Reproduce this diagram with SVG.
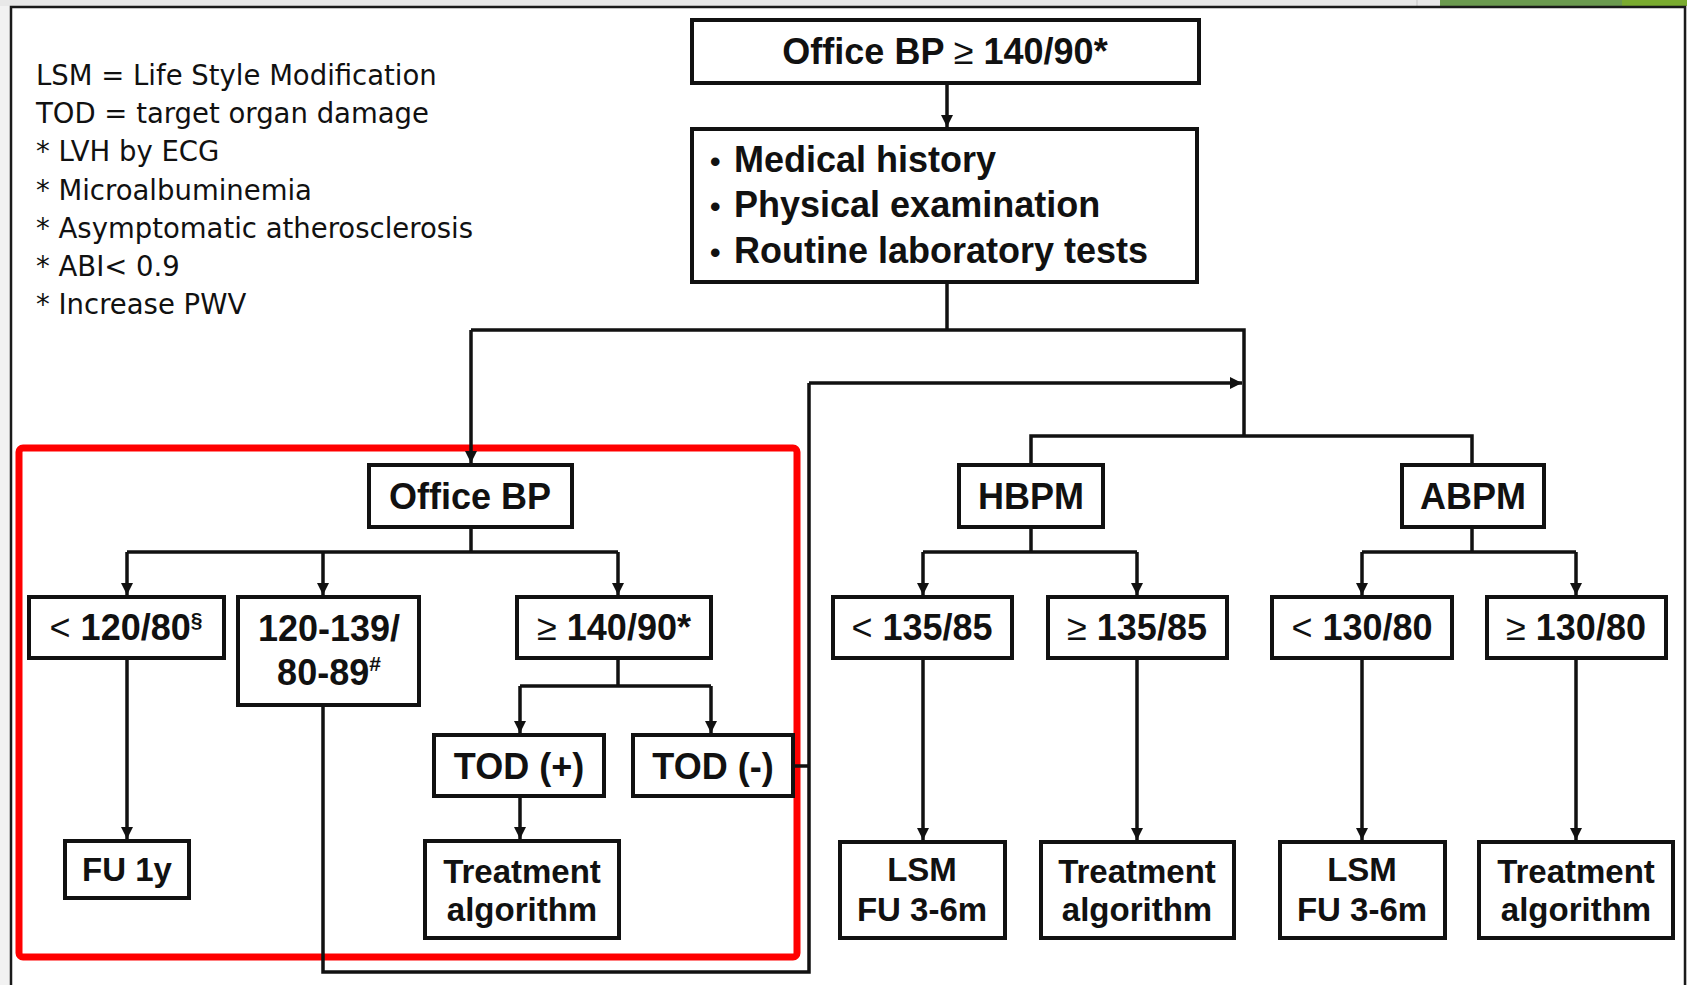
<svg xmlns="http://www.w3.org/2000/svg" width="1687" height="985" viewBox="0 0 1687 985">
  <style>
    .box { fill: #fff; stroke: #111; stroke-width: 4; }
    .wire { fill: none; stroke: #111; stroke-width: 3.5; }
    .lbl { font-family: "Liberation Sans", Arial, sans-serif; font-weight: bold; fill: #111; text-anchor: middle; }
    .big { font-size: 36px; }
    .mid { font-size: 33px; }
    .sym { font-weight: normal; }
    .sup { font-size: 21px; }
    .note { font-family: "DejaVu Sans", Verdana, sans-serif; font-size: 27.5px; fill: #111; }
  </style>
  <defs>
    <marker id="arrow" viewBox="0 0 10 10" refX="10" refY="5" markerWidth="12" markerHeight="13" orient="auto" markerUnits="userSpaceOnUse">
      <path d="M0,0 L10,5 L0,10 z" fill="#111"/>
    </marker>
  </defs>

  <!-- window chrome around the slide -->
  <rect x="0" y="0" width="1687" height="985" fill="#f2f2f2"/>
  <rect x="0" y="0" width="1687" height="6" fill="#e8e8e8"/>
  <rect x="1440" y="0" width="182" height="6" fill="#6b9a4f"/>
  <rect x="1622" y="0" width="65" height="6" fill="#7aab2f"/>
  <line x1="1417" y1="0" x2="1417" y2="6" stroke="#c4c4c4" stroke-width="1"/>
  <rect x="11" y="7" width="1674" height="990" fill="#fff" stroke="#1a1a1a" stroke-width="2.5"/>

  <!-- abbreviations -->
  <g id="legend" class="note">
    <text x="36" y="85">LSM = Life Style Modification</text>
    <text x="36" y="123">TOD = target organ damage</text>
    <text x="36" y="161">* LVH by ECG</text>
    <text x="36" y="200">* Microalbuminemia</text>
    <text x="36" y="238">* Asymptomatic atherosclerosis</text>
    <text x="36" y="276">* ABI&lt; 0.9</text>
    <text x="36" y="314">* Increase PWV</text>
  </g>

  <!-- highlight around the office BP branch -->
  <rect id="highlight" x="19" y="448" width="778" height="509" rx="4" fill="none" stroke="#ff0000" stroke-width="7"/>

  <g id="connectors">
    <line class="wire" x1="947" y1="83" x2="947" y2="127" marker-end="url(#arrow)"/>
    <polyline class="wire" points="947,282 947,330"/>
    <polyline class="wire" points="471,330 1244,330 1244,436"/>
    <line class="wire" x1="471" y1="330" x2="471" y2="463" marker-end="url(#arrow)"/>
    <polyline class="wire" points="1031,465 1031,436 1472,436 1472,465"/>
    <!-- office BP split -->
    <polyline class="wire" points="471,527 471,552"/>
    <line class="wire" x1="127" y1="552" x2="618" y2="552"/>
    <line class="wire" x1="127" y1="552" x2="127" y2="595" marker-end="url(#arrow)"/>
    <line class="wire" x1="323" y1="552" x2="323" y2="595" marker-end="url(#arrow)"/>
    <line class="wire" x1="618" y1="552" x2="618" y2="595" marker-end="url(#arrow)"/>
    <line class="wire" x1="127" y1="658" x2="127" y2="839" marker-end="url(#arrow)"/>
    <!-- >= 140/90 split -->
    <polyline class="wire" points="618,658 618,686"/>
    <line class="wire" x1="520" y1="686" x2="711" y2="686"/>
    <line class="wire" x1="520" y1="686" x2="520" y2="733" marker-end="url(#arrow)"/>
    <line class="wire" x1="711" y1="686" x2="711" y2="733" marker-end="url(#arrow)"/>
    <line class="wire" x1="520" y1="796" x2="520" y2="839" marker-end="url(#arrow)"/>
    <!-- return path to out-of-office measurement -->
    <polyline class="wire" points="323,705 323,972 809,972 809,383"/>
    <line class="wire" x1="793" y1="766" x2="809" y2="766"/>
    <line class="wire" x1="809" y1="383" x2="1242" y2="383" marker-end="url(#arrow)"/>
    <!-- HBPM split -->
    <polyline class="wire" points="1031,527 1031,552"/>
    <line class="wire" x1="923" y1="552" x2="1137" y2="552"/>
    <line class="wire" x1="923" y1="552" x2="923" y2="595" marker-end="url(#arrow)"/>
    <line class="wire" x1="1137" y1="552" x2="1137" y2="595" marker-end="url(#arrow)"/>
    <!-- ABPM split -->
    <polyline class="wire" points="1472,527 1472,552"/>
    <line class="wire" x1="1362" y1="552" x2="1576" y2="552"/>
    <line class="wire" x1="1362" y1="552" x2="1362" y2="595" marker-end="url(#arrow)"/>
    <line class="wire" x1="1576" y1="552" x2="1576" y2="595" marker-end="url(#arrow)"/>
    <!-- thresholds to outcomes -->
    <line class="wire" x1="923" y1="658" x2="923" y2="840" marker-end="url(#arrow)"/>
    <line class="wire" x1="1137" y1="658" x2="1137" y2="840" marker-end="url(#arrow)"/>
    <line class="wire" x1="1362" y1="658" x2="1362" y2="840" marker-end="url(#arrow)"/>
    <line class="wire" x1="1576" y1="658" x2="1576" y2="840" marker-end="url(#arrow)"/>
  </g>

  <g id="office-bp-start">
    <rect class="box" x="692" y="20" width="507" height="63"/>
    <text class="lbl big" x="945" y="64">Office BP <tspan class="sym">≥</tspan> 140/90*</text>
  </g>

  <g id="workup">
    <rect class="box" x="692" y="129" width="505" height="153"/>
    <g class="lbl big" style="text-anchor:start">
      <text x="710" y="172" style="font-size:30px">•</text><text x="734" y="172">Medical history</text>
      <text x="710" y="217" style="font-size:30px">•</text><text x="734" y="217">Physical examination</text>
      <text x="710" y="263" style="font-size:30px">•</text><text x="734" y="263">Routine laboratory tests</text>
    </g>
  </g>

  <g id="office-bp">
    <rect class="box" x="369" y="465" width="203" height="62"/>
    <text class="lbl big" x="470" y="509">Office BP</text>
  </g>

  <g id="office-lt-120">
    <rect class="box" x="29" y="597" width="195" height="61"/>
    <text class="lbl big" x="126" y="640"><tspan class="sym">&lt;</tspan> 120/80<tspan class="sup" dy="-13">§</tspan></text>
  </g>

  <g id="office-120-139">
    <rect class="box" x="238" y="597" width="181" height="108"/>
    <text class="lbl big" x="329" y="641">120-139/</text>
    <text class="lbl big" x="329" y="685">80-89<tspan class="sup" dy="-14">#</tspan></text>
  </g>

  <g id="office-ge-140">
    <rect class="box" x="517" y="597" width="194" height="61"/>
    <text class="lbl big" x="614" y="640"><tspan class="sym">≥</tspan> 140/90*</text>
  </g>

  <g id="fu-1y">
    <rect class="box" x="65" y="841" width="124" height="57"/>
    <text class="lbl mid" x="127" y="881">FU 1y</text>
  </g>

  <g id="tod-pos">
    <rect class="box" x="434" y="735" width="170" height="61"/>
    <text class="lbl big" x="519" y="779">TOD (+)</text>
  </g>

  <g id="tod-neg">
    <rect class="box" x="633" y="735" width="160" height="61"/>
    <text class="lbl big" x="713" y="779">TOD (-)</text>
  </g>

  <g id="office-treatment">
    <rect class="box" x="425" y="841" width="194" height="97"/>
    <text class="lbl mid" x="522" y="883">Treatment</text>
    <text class="lbl mid" x="522" y="921">algorithm</text>
  </g>

  <g id="hbpm">
    <rect class="box" x="959" y="465" width="144" height="62"/>
    <text class="lbl big" x="1031" y="509">HBPM</text>
  </g>

  <g id="abpm">
    <rect class="box" x="1402" y="465" width="142" height="62"/>
    <text class="lbl big" x="1473" y="509">ABPM</text>
  </g>

  <g id="hbpm-lt">
    <rect class="box" x="833" y="597" width="179" height="61"/>
    <text class="lbl big" x="922" y="640"><tspan class="sym">&lt;</tspan> 135/85</text>
  </g>

  <g id="hbpm-ge">
    <rect class="box" x="1048" y="597" width="179" height="61"/>
    <text class="lbl big" x="1137" y="640"><tspan class="sym">≥</tspan> 135/85</text>
  </g>

  <g id="abpm-lt">
    <rect class="box" x="1272" y="597" width="180" height="61"/>
    <text class="lbl big" x="1362" y="640"><tspan class="sym">&lt;</tspan> 130/80</text>
  </g>

  <g id="abpm-ge">
    <rect class="box" x="1487" y="597" width="179" height="61"/>
    <text class="lbl big" x="1576" y="640"><tspan class="sym">≥</tspan> 130/80</text>
  </g>

  <g id="hbpm-lsm">
    <rect class="box" x="840" y="842" width="165" height="96"/>
    <text class="lbl mid" x="922" y="881">LSM</text>
    <text class="lbl mid" x="922" y="921">FU 3-6m</text>
  </g>

  <g id="hbpm-treatment">
    <rect class="box" x="1041" y="842" width="193" height="96"/>
    <text class="lbl mid" x="1137" y="883">Treatment</text>
    <text class="lbl mid" x="1137" y="921">algorithm</text>
  </g>

  <g id="abpm-lsm">
    <rect class="box" x="1280" y="842" width="165" height="96"/>
    <text class="lbl mid" x="1362" y="881">LSM</text>
    <text class="lbl mid" x="1362" y="921">FU 3-6m</text>
  </g>

  <g id="abpm-treatment">
    <rect class="box" x="1479" y="842" width="194" height="96"/>
    <text class="lbl mid" x="1576" y="883">Treatment</text>
    <text class="lbl mid" x="1576" y="921">algorithm</text>
  </g>
</svg>
